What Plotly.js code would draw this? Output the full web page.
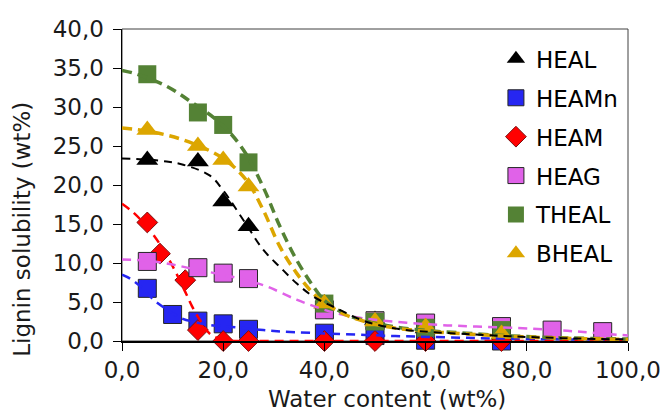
<!DOCTYPE html>
<html>
<head>
<meta charset="utf-8">
<script src="https://cdn.plot.ly/plotly-3.0.1.min.js"></script>
<style>
html,body{margin:0;padding:0;background:#fff;}
#chart{width:665px;height:412px;}
</style>
</head>
<body>
<div id="chart"></div>
<script>
// ---- measured data (wt% water vs lignin solubility wt%) ----
var names = ['HEAL', 'HEAMn', 'HEAM', 'HEAG', 'THEAL', 'BHEAL'];
var xTitle = 'Water content (wt%)';
var yTitle = 'Lignin solubility (wt%)';

var healX  = [5, 15, 20, 25, 40, 50, 60, 75];
var healY  = [23.2, 23.0, 17.9, 14.7, 4.8, 2.7, 1.6, 0.8];

var heamnX = [5, 10, 15, 20, 25, 40, 50, 60, 75];
var heamnY = [6.75, 3.4, 2.55, 2.2, 1.5, 1.0, 0.7, 0.1, 0.0];

var heamX  = [5, 7.5, 12.5, 15, 20, 25, 40, 50, 60, 75];
var heamY  = [15.2, 11.2, 7.8, 1.4, 0, 0, 0, 0, 0, 0];

var heagX  = [5, 15, 20, 25, 40, 50, 60, 75, 85, 95];
var heagY  = [10.2, 9.4, 8.7, 8.0, 4.0, 2.6, 2.3, 1.85, 1.4, 1.2];

var thealX = [5, 15, 20, 25, 40, 50, 60, 75];
var thealY = [34.2, 29.3, 27.7, 22.9, 4.8, 2.5, 1.7, 1.4];

var bhealX = [5, 15, 20, 25, 40, 50, 60, 75];
var bhealY = [27.05, 25.0, 23.2, 19.8, 4.8, 2.5, 1.8, 0.9];

// ---- dashed trend curves ----
var fitHealX  = [0, 4, 8.8, 12.1, 17.4, 20, 24.6, 27.9, 31.2, 34.5, 37.8, 42.4, 47.7, 54, 61, 68, 77, 88, 100];
var fitHealY  = [23.4, 23.3, 23.0, 22.6, 21.2, 19.3, 14.9, 11.7, 9.5, 7.4, 5.7, 4.2, 2.6, 1.6, 1.15, 0.9, 0.6, 0.35, 0.2];

var fitHeamnX = [0, 1.6, 4, 6.2, 8.5, 11.8, 15, 17.4, 22.7, 27.9, 32, 43, 54, 64, 75, 100];
var fitHeamnY = [8.5, 8.0, 6.8, 5.3, 4.2, 2.9, 2.35, 2.05, 1.75, 1.4, 1.2, 0.9, 0.64, 0.47, 0.3, 0.15];

var fitHeamX  = [0, 2.2, 5, 7.5, 10, 12.5, 13.8, 15.4, 17.4, 20, 23, 30, 100];
var fitHeamY  = [17.6, 16.5, 14.6, 12.4, 9.6, 6.3, 4.5, 2.7, 0.9, 0.15, 0, 0, 0];

var fitHeagX  = [0, 5, 10, 15, 20, 25, 28.6, 34.5, 40, 42.4, 47.7, 56.3, 62.8, 70, 80.6, 88, 91.2, 100];
var fitHeagY  = [10.45, 10.3, 9.8, 9.1, 8.5, 7.7, 7.0, 5.3, 4.0, 3.55, 2.9, 2.35, 2.05, 1.85, 1.6, 1.3, 1.15, 0.7];

var fitThealX = [0, 3, 9, 14, 19.5, 24, 28, 31.2, 34.5, 37.8, 40, 44, 48, 54, 61, 68, 77, 88, 100];
var fitThealY = [34.7, 34.2, 32.6, 30.5, 27.9, 24.5, 19.6, 14.7, 10.4, 7.0, 5.2, 3.5, 2.6, 1.8, 1.3, 1.0, 0.65, 0.4, 0.25];

var fitBhealX = [0, 3, 8.8, 14.1, 20, 24.6, 27.9, 31.2, 34.5, 37.8, 40, 44, 48, 54, 61, 68, 77, 88, 100];
var fitBhealY = [27.3, 27.1, 26.4, 25.3, 23.4, 20.6, 16.8, 12.1, 8.7, 6.1, 4.9, 3.4, 2.5, 1.65, 1.2, 0.9, 0.6, 0.35, 0.2];

var xTickVals = [0, 20, 40, 60, 80, 100];
var yTickVals = [0, 5, 10, 15, 20, 25, 30, 35, 40];

// ---- styles ----
var cBlack = '#000000', cBlue = '#2626F2', cRed = '#FF0000', cPink = '#E062E8', cGreen = '#548235', cGold = '#DCA600';
var edge = {color: '#262626', width: 1};

function pts(name, x, y, sym, size, color, line, grp) {
  return {type: 'scatter', mode: 'markers', name: name, x: x, y: y, cliponaxis: false,
          legendgroup: grp, marker: {symbol: sym, size: size, color: color, line: line}};
}
function fit(x, y, color, width, dash) {
  return {type: 'scatter', mode: 'lines', x: x, y: y, showlegend: false, hoverinfo: 'skip',
          cliponaxis: false, line: {color: color, width: width, dash: dash, shape: 'spline', smoothing: 1}};
}

var data = [
  pts(names[0], healX, healY, 'triangle-up', 19, cBlack, {width: 0}, 'g1'),
  pts(names[1], heamnX, heamnY, 'square', 18, cBlue, edge, 'g2'),
  pts(names[2], heamX, heamY, 'diamond', 16, cRed, {color: '#7a1010', width: 1}, 'g3'),
  pts(names[3], heagX, heagY, 'square', 18, cPink, edge, 'g4'),
  pts(names[4], thealX, thealY, 'square', 18, cGreen, {width: 0}, 'g5'),
  pts(names[5], bhealX, bhealY, 'triangle-up', 19, cGold, {width: 0}, 'g6'),
  fit(fitHeamnX, fitHeamnY, cBlue, 2.5, '9px,6px'),
  fit(fitHeamX, fitHeamY, cRed, 2.5, '9px,6px'),
  fit(fitHeagX, fitHeagY, cPink, 2.5, '9px,6px'),
  fit(fitThealX, fitThealY, cGreen, 3.5, '10px,6px'),
  fit(fitBhealX, fitBhealY, cGold, 3.5, '10px,6px'),
  fit(fitHealX, fitHealY, cBlack, 2, '8px,6px')
];

var fontFam = 'DejaVu Sans, Arial, sans-serif';
var layout = {
  width: 665, height: 412,
  margin: {l: 122, r: 37, t: 29, b: 71},
  paper_bgcolor: '#ffffff', plot_bgcolor: '#ffffff',
  separators: ', ',
  font: {family: fontFam, color: '#1a1a1a', size: 23},
  showlegend: true,
  legend: {x: 0.739, y: 0.973, xanchor: 'left', yanchor: 'top', bgcolor: 'rgba(0,0,0,0)',
           font: {family: fontFam, size: 23, color: '#000'}, tracegroupgap: 6, traceorder: 'grouped'},
  xaxis: {range: [0, 100], tickvals: xTickVals, tickformat: '.1f', showgrid: false, zeroline: false,
          showline: true, linecolor: '#000', linewidth: 1.5, ticks: 'outside', ticklen: 8, tickcolor: '#000',
          tickfont: {size: 23}},
  yaxis: {range: [0, 40], tickvals: yTickVals, tickformat: '.1f', showgrid: false, zeroline: false,
          showline: true, linecolor: '#000', linewidth: 1.5, ticks: 'outside', ticklen: 8, tickcolor: '#000',
          ticklabelstandoff: 4, tickfont: {size: 23}},
  annotations: [
    {text: xTitle, xref: 'paper', yref: 'paper', x: 0.524, y: -0.186, xanchor: 'center', yanchor: 'middle',
     showarrow: false, font: {size: 23, color: '#1a1a1a'}},
    {text: yTitle, xref: 'paper', yref: 'paper', x: -0.198, y: 0.359, xanchor: 'center', yanchor: 'middle',
     textangle: -90, showarrow: false, font: {size: 23, color: '#1a1a1a'}}
  ],
  shapes: [{type: 'rect', xref: 'paper', yref: 'paper', x0: 0, x1: 1, y0: 0, y1: 1,
            line: {color: '#404040', width: 1}, layer: 'below'}]
};

Plotly.newPlot('chart', data, layout, {displayModeBar: false, staticPlot: true});
</script>
</body>
</html>
